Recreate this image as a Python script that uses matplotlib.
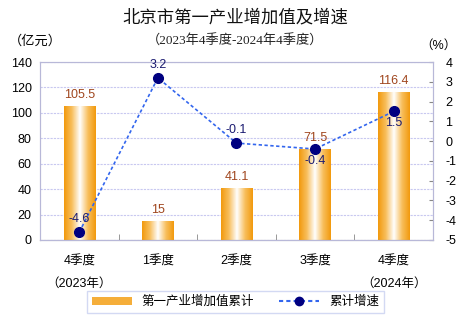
import numpy as np
import matplotlib.pyplot as plt
from matplotlib.colors import LinearSegmentedColormap
from matplotlib.patches import Patch
from matplotlib.lines import Line2D

plt.rcParams['font.family'] = ['Liberation Sans', 'Noto Sans CJK SC']
plt.rcParams['axes.unicode_minus'] = False

quarters = ['4季度\n（2023年）', '1季度', '2季度', '3季度', '4季度\n（2024年）']
value_add = [105.5, 15, 41.1, 71.5, 116.4]
growth = [-4.6, 3.2, -0.1, -0.4, 1.5]
growth_pos = ['above', 'above', 'above', 'below', 'below']

fig = plt.figure(figsize=(4.71, 3.23), dpi=100)
ax = fig.add_axes([0.085, 0.257, 0.834, 0.551])
ax2 = ax.twinx()

x = np.arange(len(quarters))
cmap = LinearSegmentedColormap.from_list('bar', ['#F29A0E', '#F8C060', '#FFFFFF', '#F8C060', '#F29A0E'])
grad = np.linspace(0, 1, 64).reshape(1, -1)
bars = ax.bar(x, value_add, width=0.4, color='none', edgecolor='none', zorder=2)
for b in bars:
    im = ax.imshow(grad, cmap=cmap, aspect='auto', zorder=2,
                   extent=[b.get_x(), b.get_x() + b.get_width(), 0, b.get_height()])
    im.set_clip_path(b)
for xi, v in zip(x, value_add):
    ax.text(xi, v + 4, f'{v:g}', ha='center', va='bottom', fontsize=9, color='#A0461E')

ax.set_xlim(-0.5, 4.5)
ax.set_ylim(0, 140)
ax.set_yticks(range(0, 141, 20))
ax.yaxis.grid(True, color='#C8C8F0', linestyle=(0, (2, 1)), linewidth=0.8)
ax.set_axisbelow(True)
ax.set_xticks(x)
ax.set_xticklabels(quarters, fontsize=9, linespacing=2.2, va='top')
ax.set_xticks(np.arange(0.5, 4.5, 1), minor=True)
ax.tick_params(axis='x', which='major', length=0, pad=11)
ax.tick_params(axis='x', which='minor', length=4, direction='in', color='#888888')
ax.tick_params(axis='y', length=0, labelsize=9, pad=6)

ax2.plot(x, growth, color='#3366EE', linestyle=(0, (2, 1.5)), linewidth=1.2,
         marker='o', markersize=7, markerfacecolor='#000080', markeredgecolor='#000080', zorder=3)
for xi, g, p in zip(x, growth, growth_pos):
    if p == 'above':
        ax2.text(xi, g + 0.35, f'{g:g}', ha='center', va='bottom', fontsize=9, color='#1A1A70')
    else:
        ax2.text(xi, g - 0.3, f'{g:g}', ha='center', va='top', fontsize=9, color='#1A1A70')
ax2.set_ylim(-5, 4)
ax2.set_yticks(range(-5, 5))
ax2.tick_params(axis='y', length=3, direction='in', color='#888888', labelsize=9, pad=9)

for a in (ax, ax2):
    for s in a.spines.values():
        s.set_color('#B8B8D8')
        s.set_linewidth(0.8)
ax.spines['bottom'].set_color('#888888')

fig.text(0.5, 0.93, '北京市第一产业增加值及增速', ha='center', fontsize=12.5, color='#111111')
fig.text(0.5, 0.86, '（2023年4季度-2024年4季度）', ha='center', fontsize=9.5,
         family=['Liberation Serif', 'Noto Sans CJK SC'], color='#222222')
fig.text(0.075, 0.86, '（亿元）', ha='center', fontsize=9.5)
fig.text(0.93, 0.85, '（%）', ha='center', fontsize=9)

handles = [Patch(facecolor='#F5AE3A', edgecolor='none'),
           Line2D([0], [0], color='#3366EE', linestyle=(0, (2, 1.5)), marker='o',
                  markersize=6, markerfacecolor='#000080', markeredgecolor='#000080')]
fig.legend(handles, ['第一产业增加值累计', '累计增速'], loc='center', bbox_to_anchor=(0.5, 0.065),
           ncol=2, fontsize=9, frameon=True, fancybox=False, edgecolor='#C8D0F0',
           handlelength=3.2, handleheight=0.6, columnspacing=2.0, borderpad=0.4)

fig.savefig('out.png', dpi=100)
